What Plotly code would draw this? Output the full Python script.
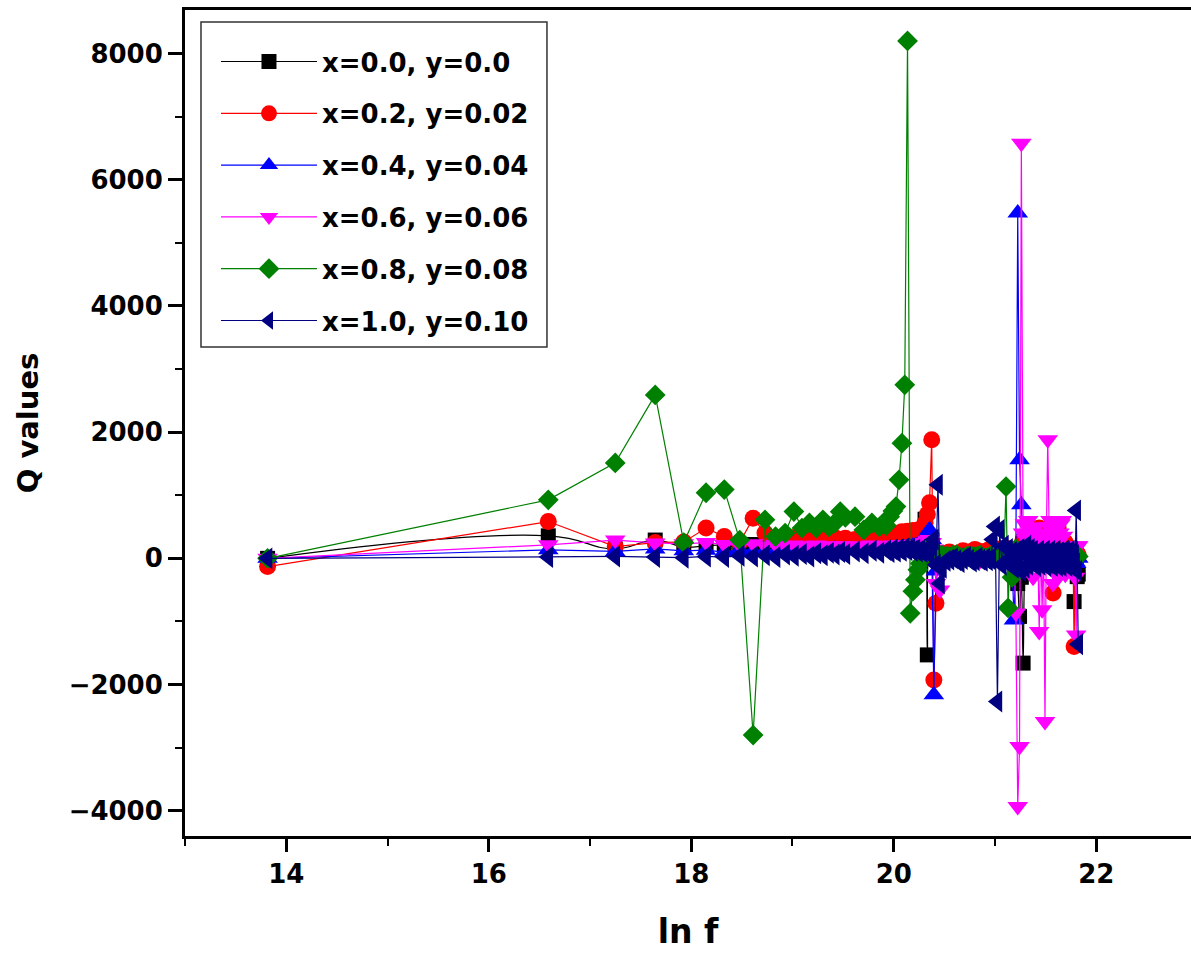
import numpy as np
import plotly.graph_objects as go

# Frequency points (MHz) of the sweep; x axis is ln f (f in Hz)
freq_mhz = [1, 16, 31, 46, 61, 76, 91, 106, 121, 136, 151, 166, 181, 196, 211, 226, 241, 256, 271, 286, 301,
            331, 361, 391, 421,
            451, 466, 481, 496, 511, 526, 541, 556, 571, 586, 601, 616, 631, 646, 661, 676, 691, 706, 721, 736, 751, 766, 781,
            811, 841, 871, 901, 931, 961, 991, 1021, 1051, 1081, 1111, 1141, 1171, 1201, 1231, 1261,
            1291, 1321, 1351, 1381, 1411, 1441, 1471, 1501, 1531, 1561, 1591, 1621, 1651, 1681, 1711, 1741, 1771, 1801, 1831, 1861,
            1891, 1921, 1951, 1981, 2011, 2041, 2071, 2101, 2131, 2161, 2191, 2221, 2251, 2281, 2311, 2341, 2371, 2401, 2431,
            2461, 2491, 2521, 2551, 2581, 2611, 2641, 2671, 2701, 2731, 2761, 2791, 2821, 2851, 2881, 2911, 2941, 2971, 3001]

q_black = [0, 357, 150, 290, 180, 200, 210, 170, 220, 190, 230, 200, 240, 210, 230, 250, 220, 240, 260, 230, 250,
           240, 260, 250, 270,
           280, 290, 300, 310, 320, 330, 340, 330, 350, 360, 380, 400, 420, 450, 620, -1530, 150, 80, 60, 40, 30, 20, 10,
           10, 0, 10, 20, 0, -10, 20, 30, 0, 10, 20, 0, -10, 20, 30, 10,
           0, -20, 10, 30, 0, 20, -10, 10, 0, -30, 20, -150, -400, -920, -300, -1660, -200, 50, -100, 20,
           20, 0, 30, 50, -10, -50, 20, 30, -30, -20, 40, 60, 10, 0, -40, -80, 20, 40, -10,
           -30, 30, 20, -20, -60, 10, 30, -20, -40, -60, -100, -30, -50, -80, -685, -120, -60, -290, -250]

q_red = [-130, 583, 187, 250, 260, 480, 345, 250, 637, 400, 300, 280, 330, 300, 320, 300, 340, 310, 330, 300, 320,
         300, 320, 310, 330,
         340, 350, 360, 380, 400, 420, 400, 430, 410, 440, 420, 450, 460, 480, 560, 700, 880, 1878, -1926, -710, 50, 80, 60,
         80, 100, 70, 60, 90, 120, 100, 80, 110, 140, 120, 90, 100, 110, 130, 150,
         120, 100, 80, 150, 130, 90, 160, 120, 100, 140, 80, 120, 60, 100, 150, 300, 200, 350, 250, 400,
         300, 450, 350, 300, 400, 480, 250, 200, 300, 350, 250, 150, 300, 500, 200, -550, 150, 400, 300,
         480, 350, 300, 200, 100, 200, 250, 150, 80, 120, 150, 100, 50, 80, -1398, 60, 100, 80, 50]

q_blue = [0, 135, 110, 150, 120, 130, 100, 140, 110, 120, 100, 130, 110, 120, 140, 110, 130, 120, 140, 110, 130,
          120, 140, 130, 150,
          140, 150, 130, 160, 150, 170, 160, 180, 170, 190, 200, 220, 250, 280, 320, 380, 452, 300, -2163, -200, 50, 30, 10,
          30, 20, 0, -10, 10, 30, 20, 0, 20, 40, 0, 10, -20, -20, 10, 30,
          0, 20, -30, 40, 10, -20, 30, 0, 50, -40, -975, 100, 5471, 1561, 848, 200, -100, 150, -50, 100,
          40, 0, -40, 80, 20, -60, 50, 120, 0, -30, 60, 90, -20, 0, 40, -80, 30, 60, -10,
          -40, 70, 100, 0, -20, 40, 50, -30, -60, 20, 80, -10, -30, 50, 40, -50, -80, 20, 0]

q_magenta = [0, 214, 290, 245, 230, 250, 220, 210, 230, 200, 220, 190, 210, 200, 180, 210, 190, 200, 180, 200, 190,
             200, 180, 210, 190,
             200, 180, 210, 190, 220, 200, 180, 210, 190, 200, 220, 210, 190, 230, 250, 280, 300, 250, 150, -400, 60, -500, 20,
             -40, 0, 20, 30, 0, -20, 20, 40, 30, 10, -10, -30, 0, 20, 10, 0,
             10, -20, 30, 0, -30, 20, -10, 40, 0, -50, 30, -866, -3934, -2983, 6580, 400, 550, 300, 600, 450,
             400, -300, 350, 500, 200, -1160, 300, -816, 250, -2587, 400, 1878, 500, 600, 300, -400, 450, 450, 550,
             -300, 400, 550, 600, 350, 150, -250, 100, -100, -150, 80, -50, -200, 100, 50, -300, -1213, 200, 200]

q_green = [0, 927, 1513, 2590, 250, 1040, 1090, 290, -2800, 610, 345, 400, 742, 480, 560, 480, 610, 500, 560, 740, 650,
           660, 450, 560, 500,
           520, 660, 750, 821, 1244, 1826, 2750, 8200, -870, -520, -340, -180, -80, 50, 150, 100, 180, 60, 120, 40, 80, 20, 50,
           40, 30, 50, 60, 20, 0, 30, 40, 30, 20, 40, 50, 20, 10, 20, 30,
           20, 40, 10, 60, 30, 80, 1138, -785, 100, -300, 50, 150, 20, 100, 60, 30, 80, 0, 50, 20,
           30, 40, 20, 10, 50, 60, 30, 20, 40, 50, 10, 0, 30, 30, 50, 60, 20, 10, 40,
           40, 30, 20, 60, 50, 10, 0, 40, 30, 50, 60, 20, 20, 30, 40, 60, 10, 50, 30]

q_navy = [0, 20, 30, 20, 10, 30, 20, 40, 30, 50, 20, 60, 40, 70, 30, 80, 50, 90, 60, 100, 70,
          110, 80, 120, 90,
          130, 100, 140, 110, 150, 120, 160, 130, 150, 120, 140, 110, 130, 100, 120, 90, 100, 200, 300, -100, 1165, -400, -150,
          -40, -20, 0, -30, -60, -10, 20, -20, -50, -30, 10, -20, -40, 0, -30, -10,
          300, 504, -2270, 450, -100, 200, -50, 150, -80, 100, -150, 80, -100, 150, -200, 100, -150, 200, -100, 150,
          100, 120, -80, -120, 60, 120, -100, -60, 100, 120, -120, -80, 80, 120, -100, -120, 60, 120, -80,
          -120, 100, 80, -120, -60, 120, 100, -100, -120, 80, 120, -60, -120, 100, 50, -80, 760, -200, -1360]

series_names = ["x=0.0, y=0.0", "x=0.2, y=0.02", "x=0.4, y=0.04",
                "x=0.6, y=0.06", "x=0.8, y=0.08", "x=1.0, y=0.10"]

ln_f = np.log(np.array(freq_mhz, dtype=float) * 1e6)

styles = [
    (q_black, "#000000", "square", 15, "spline"),
    (q_red, "#FF0000", "circle", 17, "linear"),
    (q_blue, "#0000FF", "triangle-up", 18, "linear"),
    (q_magenta, "#FF00FF", "triangle-down", 18, "linear"),
    (q_green, "#008000", "diamond", 16, "linear"),
    (q_navy, "#000080", "triangle-left", 19, "linear"),
]

FONT = "DejaVu Sans"

fig = go.Figure()
for name, (vals, col, sym, sz, shape) in zip(series_names, styles):
    fig.add_trace(go.Scatter(
        x=ln_f, y=vals, name=name, mode="lines+markers",
        legendgroup=name,
        line=dict(color=col, width=1.2, shape=shape, smoothing=1.3 if shape == "spline" else None),
        marker=dict(symbol=sym, size=sz, color=col, line=dict(width=0)),
    ))

axis_font = dict(family=FONT, size=26, color="black", weight="bold")

# legend frame (box drawn around the legend entries)
fig.add_shape(type="rect", xref="paper", yref="paper",
              x0=0.0159, x1=0.3598, y0=0.5920, y1=0.9855,
              line=dict(color="#333333", width=1.5), fillcolor="rgba(0,0,0,0)", layer="above")

fig.update_layout(
    width=1191, height=966,
    margin=dict(l=185, r=0, t=10, b=130),
    paper_bgcolor="white", plot_bgcolor="white",
    showlegend=True,
    legend=dict(
        x=0.0308, y=0.966, xanchor="left", yanchor="top",
        bgcolor="rgba(0,0,0,0)", borderwidth=0,
        font=dict(family=FONT, size=26, color="black", weight="bold"),
        tracegroupgap=15, itemwidth=96,
    ),
    xaxis=dict(
        range=[13.0, 22.936], tick0=14, dtick=2,
        ticks="outside", ticklen=13, tickwidth=2.5, tickcolor="black",
        showline=True, linewidth=3, linecolor="black", mirror=True,
        showgrid=False, zeroline=False,
        tickfont=axis_font,
        minor=dict(ticks="outside", dtick=1, tick0=13, ticklen=7, tickwidth=2, tickcolor="black", showgrid=False),
        title=dict(text="ln f", font=dict(family=FONT, size=33, color="black", weight="bold"), standoff=32),
    ),
    yaxis=dict(
        range=[-4400, 8690], tick0=0, dtick=2000,
        ticks="outside", ticklen=14, tickwidth=2.5, tickcolor="black",
        showline=True, linewidth=3, linecolor="black", mirror=False,
        showgrid=False, zeroline=False,
        tickfont=axis_font,
        minor=dict(ticks="outside", dtick=1000, ticklen=7, tickwidth=2, tickcolor="black", showgrid=False),
        title=dict(text="Q values", font=dict(family=FONT, size=29, color="black", weight="bold"), standoff=22),
    ),
)

fig.write_html("out.html")
